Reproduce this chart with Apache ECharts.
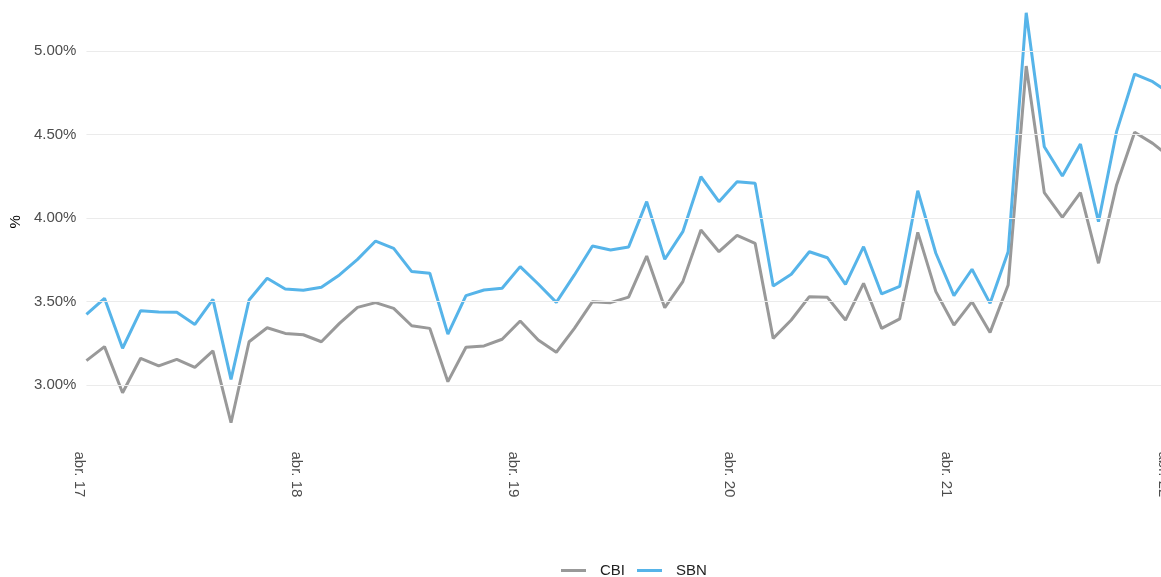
<!DOCTYPE html>
<html>
<head>
<meta charset="utf-8">
<script src="https://cdn.jsdelivr.net/npm/echarts@6/dist/echarts.min.js"></script>
<style>
html,body{margin:0;padding:0;background:#fff;overflow:hidden;}
#chart{width:1176px;height:577px;}
</style>
</head>
<body>
<div id="chart"></div>
<script>
const monthNames = ['abr.','may.','jun.','jul.','ago.','sept.','oct.','nov.','dic.','ene.','feb.','mar.'];
const startYear = 17;
const nMonths = 61;
const categories = [];
for (let i = 0; i < nMonths; i++) {
  const m = i % 12;
  const yr = startYear + Math.floor((i + 3) / 12);
  categories.push(monthNames[m] + ' ' + yr);
}
const yTicks = [3.0, 3.5, 4.0, 4.5, 5.0];

const cbi = [3.146,3.230,2.954,3.160,3.114,3.154,3.106,3.204,2.774,3.259,
             3.343,3.309,3.301,3.259,3.369,3.465,3.493,3.459,3.355,3.339,
             3.020,3.226,3.234,3.274,3.383,3.269,3.196,3.339,3.499,3.493,
             3.526,3.772,3.463,3.619,3.928,3.798,3.896,3.848,3.279,3.389,
             3.529,3.525,3.389,3.609,3.339,3.396,3.914,3.559,3.359,3.499,
             3.315,3.599,4.910,4.152,4.004,4.152,3.729,4.198,4.513,4.447,
             4.361];
const sbn = [3.423,3.519,3.220,3.445,3.437,3.435,3.363,3.513,3.034,3.509,
             3.639,3.575,3.567,3.585,3.659,3.752,3.862,3.818,3.679,3.669,
             3.305,3.535,3.569,3.579,3.709,3.605,3.495,3.659,3.832,3.808,
             3.826,4.098,3.753,3.918,4.247,4.098,4.217,4.208,3.593,3.663,
             3.798,3.762,3.603,3.828,3.545,3.591,4.163,3.789,3.535,3.693,
             3.489,3.798,5.229,4.427,4.251,4.443,3.978,4.517,4.862,4.816,
             4.743];

const chart = echarts.init(document.getElementById('chart'));
const font = '"Liberation Sans", Arial, sans-serif';
chart.setOption({
  animation: false,
  backgroundColor: '#ffffff',
  grid: { left: 86, width: 1084.8, top: 0, bottom: 133.55, containLabel: false },
  legend: {
    data: ['CBI', 'SBN'],
    top: 558,
    left: 556,
    icon: 'rect',
    itemWidth: 25,
    itemHeight: 3,
    itemGap: 12,
    textStyle: { fontFamily: font, fontSize: 15, color: '#222', padding: [0, 0, 0, 9] }
  },
  xAxis: {
    type: 'category',
    data: categories,
    boundaryGap: false,
    axisLine: { show: false },
    axisTick: { show: false },
    splitLine: { show: false },
    axisLabel: {
      interval: 11,
      rotate: -90,
      verticalAlign: 'top',
      margin: 8,
      fontFamily: font,
      fontSize: 15,
      color: '#4d4d4d'
    }
  },
  yAxis: {
    type: 'value',
    min: 2.65,
    max: 5.3054,
    name: '%',
    nameLocation: 'middle',
    nameRotate: 90,
    nameGap: 56,
    nameTextStyle: { fontFamily: font, fontSize: 15, color: '#000' },
    axisLine: { show: false },
    axisTick: { show: false },
    splitLine: { show: false },
    axisLabel: {
      margin: 10,
      fontFamily: font,
      fontSize: 15,
      color: '#4d4d4d',
      showMinLabel: false,
      showMaxLabel: false,
      formatter: function (v) {
        return yTicks.some(t => Math.abs(t - v) < 1e-9) ? v.toFixed(2) + '%' : '';
      }
    }
  },
  series: [
    {
      name: 'grid',
      type: 'line',
      data: [],
      silent: true,
      z: 0,
      markLine: {
        silent: true,
        symbol: 'none',
        label: { show: false },
        animation: false,
        lineStyle: { color: '#ebebeb', width: 1.2, type: 'solid' },
        data: yTicks.map(t => ({ yAxis: t }))
      }
    },
    {
      name: 'CBI',
      type: 'line',
      data: cbi,
      symbol: 'none',
      z: 2,
      color: '#999999',
      lineStyle: { color: '#999999', width: 3 }
    },
    {
      name: 'SBN',
      type: 'line',
      data: sbn,
      symbol: 'none',
      z: 3,
      color: '#56B4E9',
      lineStyle: { color: '#56B4E9', width: 3 }
    }
  ]
});
</script>
</body>
</html>
